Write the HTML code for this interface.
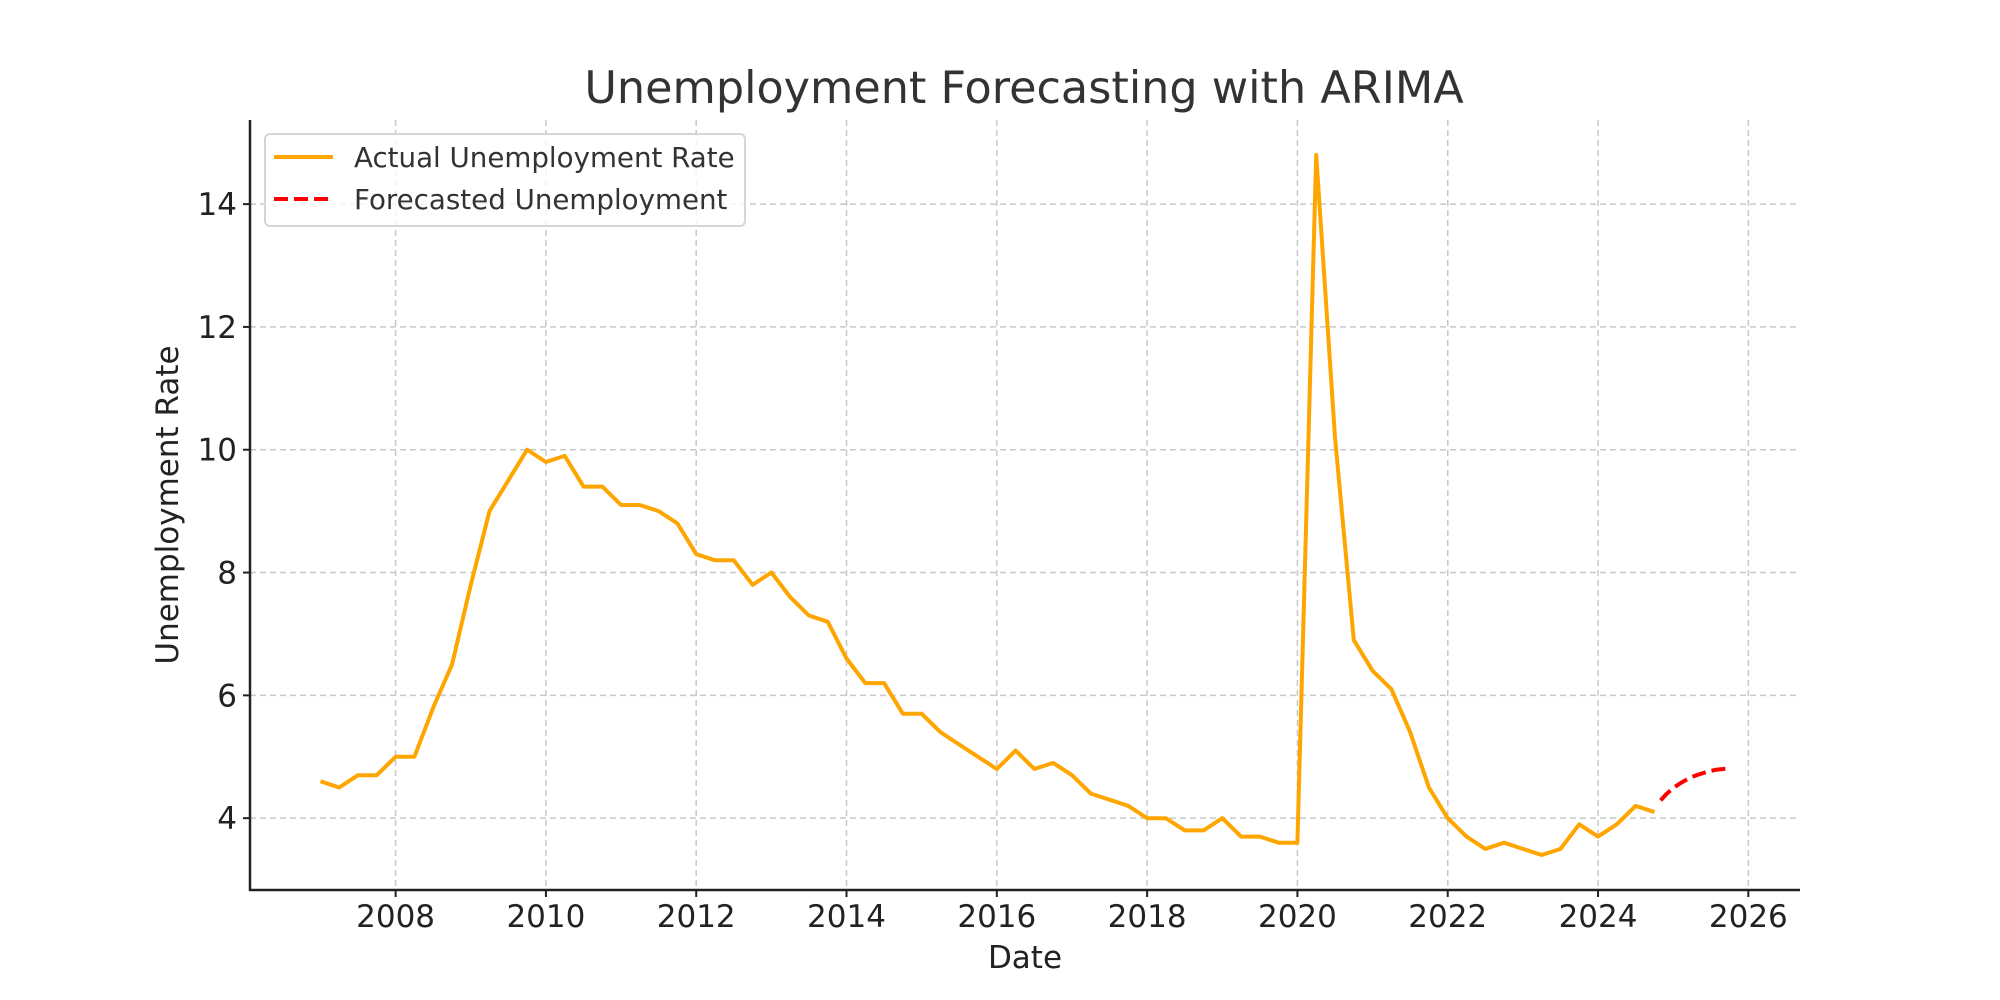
<!DOCTYPE html>
<html><head><meta charset="utf-8"><style>
html,body{margin:0;padding:0;background:#fff;}
svg{display:block;font-family:"DejaVu Sans","Liberation Sans",sans-serif;}
</style></head><body>
<svg id="chart" width="2000" height="1000" viewBox="0 0 2000 1000">
<rect width="2000" height="1000" fill="#fff"/>
<g id="grid"></g>
<g id="series"></g>
<g id="axes"></g>
<text x="1024" y="103" text-anchor="middle" font-size="44.5" fill="#333">Unemployment Forecasting with ARIMA</text>
<text x="1025" y="968" text-anchor="middle" font-size="31" fill="#222">Date</text>
<text transform="translate(178,505) rotate(-90)" text-anchor="middle" font-size="31" fill="#222">Unemployment Rate</text>
<g>
<rect x="265" y="134" width="480" height="92" rx="5" fill="#fff" fill-opacity="0.8" stroke="#d6d6d6" stroke-width="2"/>
<line x1="274" y1="157" x2="333" y2="157" stroke="#FFA500" stroke-width="4"/>
<text x="354" y="167" font-size="27.7" fill="#333">Actual Unemployment Rate</text>
<line x1="274" y1="199" x2="333" y2="199" stroke="#FF0000" stroke-width="4" stroke-dasharray="14,6"/>
<text x="354" y="209" font-size="27.7" fill="#333">Forecasted Unemployment</text>
</g>
</svg>
<script>
const actualValues=[4.6,4.5,4.7,4.7, 5.0,5.0,5.8,6.5, 7.8,9.0,9.5,10.0, 9.8,9.9,9.4,9.4, 9.1,9.1,9.0,8.8, 8.3,8.2,8.2,7.8, 8.0,7.6,7.3,7.2, 6.6,6.2,6.2,5.7, 5.7,5.4,5.2,5.0, 4.8,5.1,4.8,4.9, 4.7,4.4,4.3,4.2, 4.0,4.0,3.8,3.8, 4.0,3.7,3.7,3.6, 3.6,14.8,10.2,6.9, 6.4,6.1,5.4,4.5, 4.0,3.7,3.5,3.6, 3.5,3.4,3.5,3.9, 3.7,3.9,4.2,4.1];
const actualStart=2007.0;
const actualStep=0.25;
const forecastValues=[4.29,4.40,4.49,4.56,4.62,4.67,4.71,4.74,4.77,4.79,4.80,4.81];
const forecastStart=2024.833;
const forecastStep=1/12;
const xTicks=[2008,2010,2012,2014,2016,2018,2020,2022,2024,2026];
const yTicks=[4,6,8,10,12,14];

const L=250,R=1800,T=120,B=890;
const xMin=2006.0625,xMax=2026.6875,yMin=2.83,yMax=15.37;
const X=v=>L+(v-xMin)/(xMax-xMin)*(R-L);
const Y=v=>B-(v-yMin)/(yMax-yMin)*(B-T);
const NS='http://www.w3.org/2000/svg';
function mk(tag,attrs,parent){const e=document.createElementNS(NS,tag);for(const k in attrs)e.setAttribute(k,attrs[k]);parent.appendChild(e);return e;}
const grid=document.getElementById('grid'),axes=document.getElementById('axes'),series=document.getElementById('series');
xTicks.forEach(t=>{
  const g=mk('line',{x1:X(t),x2:X(t),y1:T,y2:B,stroke:'#c8c8c8','stroke-width':1.5,'stroke-dasharray':'6,4'},grid);
  
  
  const tk=mk('line',{x1:X(t),x2:X(t),y1:B,y2:B+7,stroke:'#222','stroke-width':2},axes);
  
  
  const tx=mk('text',{x:X(t),y:B+37,'text-anchor':'middle','font-size':31,fill:'#222'},axes);
  tx.textContent=t;
  
  
});
yTicks.forEach(t=>{
  const g=mk('line',{x1:L,x2:R,y1:Y(t),y2:Y(t),stroke:'#c8c8c8','stroke-width':1.5,'stroke-dasharray':'6,4'},grid);
  
  
  const tk=mk('line',{x1:L-7,x2:L,y1:Y(t),y2:Y(t),stroke:'#222','stroke-width':2},axes);
  
  
  const tx=mk('text',{x:L-13,y:Y(t)+11,'text-anchor':'end','font-size':31,fill:'#222'},axes);
  tx.textContent=t;
  
  
});
const sl=mk('line',{x1:L,x2:L,y1:T,y2:B+1,stroke:'#222','stroke-width':2.5},axes);


const sb=mk('line',{x1:L-1,x2:R,y1:B,y2:B,stroke:'#222','stroke-width':2.5},axes);


const pa=actualValues.map((v,i)=>X(actualStart+i*actualStep).toFixed(1)+','+Y(v).toFixed(1)).join(' ');
const la=mk('polyline',{points:pa,fill:'none',stroke:'#FFA500','stroke-width':4,'stroke-linejoin':'round'},series);


const pf=forecastValues.map((v,i)=>X(forecastStart+i*forecastStep).toFixed(1)+','+Y(v).toFixed(1)).join(' ');
const lf=mk('polyline',{points:pf,fill:'none',stroke:'#FF0000','stroke-width':4,'stroke-dasharray':'14,6'},series);


</script>
</body></html>
